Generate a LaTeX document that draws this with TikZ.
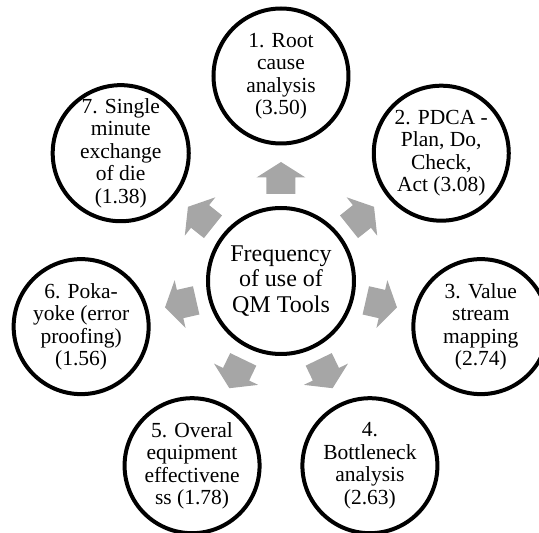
\documentclass[tikz,border=0pt]{standalone}
\usepackage{fontspec}
\setmainfont{Liberation Serif}
\definecolor{arrowgray}{RGB}{166,166,166}
\begin{document}
\begin{tikzpicture}[x=1pt,y=1pt,
  hub/.style={circle, draw=black, line width=4pt, minimum size=146pt, inner sep=0pt, align=center, font=\fontsize{24}{25.5}\selectfont},
  spoke/.style={circle, draw=black, line width=4pt, minimum size=135pt, inner sep=0pt, align=center, font=\fontsize{21.5}{22.5}\selectfont},
  blockarrow/.style={fill=arrowgray}]
\useasboundingbox (-281,-252) rectangle (258,281);
\clip (-281,-252) rectangle (258,281);
\node[hub] (c0) at (0,0) {Frequency\\of use of\\QM Tools};
\node[spoke] (c1) at (90:205pt) {1. Root\\cause\\analysis\\(3.50)};
\node[spoke] (c2) at (38.57:205pt) {2. PDCA -\\Plan, Do,\\Check,\\Act (3.08)};
\node[spoke] (c3) at (-12.86:205pt) {3. Value\\stream\\mapping\\(2.74)};
\node[spoke] (c4) at (-64.29:205pt) {4.\\Bottleneck\\analysis\\(2.63)};
\node[spoke] (c5) at (-115.71:205pt) {5. Overal\\equipment\\effectivene\\ss (1.78)};
\node[spoke] (c6) at (-167.14:205pt) {6. Poka-\\yoke (error\\proofing)\\(1.56)};
\node[spoke] (c7) at (141.43:205pt) {7. Single\\minute\\exchange\\of die\\(1.38)};
\foreach \a in {90,38.57,-12.86,-64.29,-115.71,-167.14,141.43}
  \fill[blockarrow, shift={(c0.center)}, rotate=\a]
    (87,-14.5) -- (103.5,-14.5) -- (103.5,-24.5) -- (119,0) -- (103.5,24.5) -- (103.5,14.5) -- (87,14.5) -- cycle;
\end{tikzpicture}
\end{document}
